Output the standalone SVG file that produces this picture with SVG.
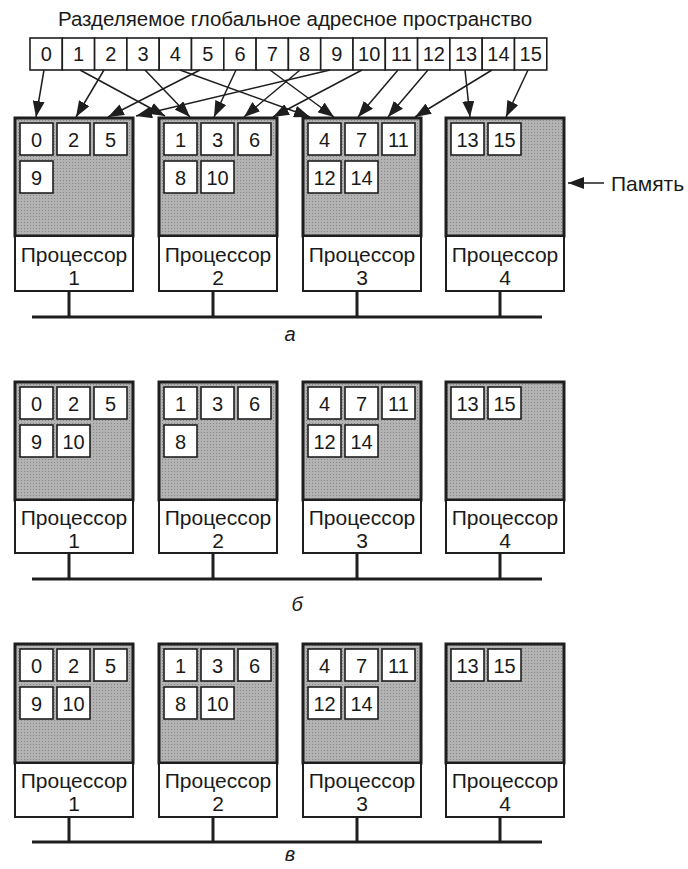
<svg xmlns="http://www.w3.org/2000/svg" width="688" height="869" viewBox="0 0 688 869">
<style>
.t{font-family:"Liberation Sans",Arial,sans-serif;fill:#1a1a1a}
.num{font-size:20px;text-anchor:middle}
.lbl{font-size:21px;text-anchor:middle}
.cap{font-size:20px;font-style:italic;text-anchor:middle}
.mem{fill:url(#dots);stroke:#1e1e1e;stroke-width:3}
.cpu{fill:#fff;stroke:#1e1e1e;stroke-width:2}
.cell{fill:#fff;stroke:#1e1e1e;stroke-width:1.6}
.bus{stroke:#1e1e1e;stroke-width:3;fill:none}
.conn{stroke:#1e1e1e;stroke-width:1.5;fill:none;marker-end:url(#ah)}
</style>
<defs>
<pattern id="dots" width="3" height="3" patternUnits="userSpaceOnUse">
<rect width="3" height="3" fill="#b3b3b3"/><rect width="1" height="1" fill="#858585"/>
</pattern>
<marker id="ah" markerUnits="userSpaceOnUse" markerWidth="16" markerHeight="12" refX="16" refY="6" orient="auto">
<path d="M0,0 L16,6 L0,12 z" fill="#1e1e1e"/>
</marker>
</defs>
<rect width="688" height="869" fill="#fff"/>

<text class="t" x="295" y="26" font-size="20.5" text-anchor="middle">Разделяемое глобальное адресное пространство</text>

<g id="address-space">
<rect class="cell" x="30" y="38" width="32.3" height="32"/><text class="t num" x="46.2" y="61">0</text>
<rect class="cell" x="62.3" y="38" width="32.3" height="32"/><text class="t num" x="78.5" y="61">1</text>
<rect class="cell" x="94.6" y="38" width="32.3" height="32"/><text class="t num" x="110.8" y="61">2</text>
<rect class="cell" x="126.9" y="38" width="32.3" height="32"/><text class="t num" x="143.1" y="61">3</text>
<rect class="cell" x="159.2" y="38" width="32.3" height="32"/><text class="t num" x="175.4" y="61">4</text>
<rect class="cell" x="191.5" y="38" width="32.3" height="32"/><text class="t num" x="207.7" y="61">5</text>
<rect class="cell" x="223.8" y="38" width="32.3" height="32"/><text class="t num" x="240" y="61">6</text>
<rect class="cell" x="256.1" y="38" width="32.3" height="32"/><text class="t num" x="272.3" y="61">7</text>
<rect class="cell" x="288.4" y="38" width="32.3" height="32"/><text class="t num" x="304.6" y="61">8</text>
<rect class="cell" x="320.7" y="38" width="32.3" height="32"/><text class="t num" x="336.9" y="61">9</text>
<rect class="cell" x="353" y="38" width="32.3" height="32"/><text class="t num" x="369.2" y="61">10</text>
<rect class="cell" x="385.3" y="38" width="32.3" height="32"/><text class="t num" x="401.5" y="61">11</text>
<rect class="cell" x="417.6" y="38" width="32.3" height="32"/><text class="t num" x="433.8" y="61">12</text>
<rect class="cell" x="449.9" y="38" width="32.3" height="32"/><text class="t num" x="466.1" y="61">13</text>
<rect class="cell" x="482.2" y="38" width="32.3" height="32"/><text class="t num" x="498.4" y="61">14</text>
<rect class="cell" x="514.5" y="38" width="32.3" height="32"/><text class="t num" x="530.7" y="61">15</text>
</g>

<!-- Section a -->
<g id="a-p1">
<rect class="mem" x="15" y="118" width="118" height="118"/>
<rect class="cell" x="20" y="123" width="33" height="32"/><text class="t num" x="36.5" y="146.5">0</text>
<rect class="cell" x="57" y="123" width="33" height="32"/><text class="t num" x="73.5" y="146.5">2</text>
<rect class="cell" x="94" y="123" width="33" height="32"/><text class="t num" x="110.5" y="146.5">5</text>
<rect class="cell" x="20" y="161" width="33" height="32"/><text class="t num" x="36.5" y="184.5">9</text>
<rect class="cpu" x="15" y="236" width="118" height="55"/>
<text class="t lbl" x="74" y="262">Процессор</text><text class="t lbl" x="74" y="285">1</text>
</g>
<g id="a-p2">
<rect class="mem" x="159" y="118" width="118" height="118"/>
<rect class="cell" x="164" y="123" width="33" height="32"/><text class="t num" x="180.5" y="146.5">1</text>
<rect class="cell" x="201" y="123" width="33" height="32"/><text class="t num" x="217.5" y="146.5">3</text>
<rect class="cell" x="238" y="123" width="33" height="32"/><text class="t num" x="254.5" y="146.5">6</text>
<rect class="cell" x="164" y="161" width="33" height="32"/><text class="t num" x="180.5" y="184.5">8</text>
<rect class="cell" x="201" y="161" width="33" height="32"/><text class="t num" x="217.5" y="184.5">10</text>
<rect class="cpu" x="159" y="236" width="118" height="55"/>
<text class="t lbl" x="218" y="262">Процессор</text><text class="t lbl" x="218" y="285">2</text>
</g>
<g id="a-p3">
<rect class="mem" x="303" y="118" width="118" height="118"/>
<rect class="cell" x="308" y="123" width="33" height="32"/><text class="t num" x="324.5" y="146.5">4</text>
<rect class="cell" x="345" y="123" width="33" height="32"/><text class="t num" x="361.5" y="146.5">7</text>
<rect class="cell" x="382" y="123" width="33" height="32"/><text class="t num" x="398.5" y="146.5">11</text>
<rect class="cell" x="308" y="161" width="33" height="32"/><text class="t num" x="324.5" y="184.5">12</text>
<rect class="cell" x="345" y="161" width="33" height="32"/><text class="t num" x="361.5" y="184.5">14</text>
<rect class="cpu" x="303" y="236" width="118" height="55"/>
<text class="t lbl" x="362" y="262">Процессор</text><text class="t lbl" x="362" y="285">3</text>
</g>
<g id="a-p4">
<rect class="mem" x="446" y="118" width="118" height="118"/>
<rect class="cell" x="451" y="123" width="33" height="32"/><text class="t num" x="467.5" y="146.5">13</text>
<rect class="cell" x="488" y="123" width="33" height="32"/><text class="t num" x="504.5" y="146.5">15</text>
<rect class="cpu" x="446" y="236" width="118" height="55"/>
<text class="t lbl" x="505" y="262">Процессор</text><text class="t lbl" x="505" y="285">4</text>
</g>
<g id="a-bus">
<path class="bus" d="M32,317 H542 M69,291 V317 M213,291 V317 M357,291 V317 M500,291 V317"/>
</g>
<text class="t cap" x="290" y="341">а</text>

<g id="memory-label">
<line x1="604" y1="183" x2="568" y2="183" stroke="#1e1e1e" stroke-width="1.5" marker-end="url(#ah)"/>
<text class="t" x="611" y="191" font-size="21">Память</text>
</g>

<!-- Section b -->
<g id="b-p1">
<rect class="mem" x="15" y="382" width="118" height="118"/>
<rect class="cell" x="20" y="387" width="33" height="32"/><text class="t num" x="36.5" y="410.5">0</text>
<rect class="cell" x="57" y="387" width="33" height="32"/><text class="t num" x="73.5" y="410.5">2</text>
<rect class="cell" x="94" y="387" width="33" height="32"/><text class="t num" x="110.5" y="410.5">5</text>
<rect class="cell" x="20" y="425" width="33" height="32"/><text class="t num" x="36.5" y="448.5">9</text>
<rect class="cell" x="57" y="425" width="33" height="32"/><text class="t num" x="73.5" y="448.5">10</text>
<rect class="cpu" x="15" y="500" width="118" height="53"/>
<text class="t lbl" x="74" y="525">Процессор</text><text class="t lbl" x="74" y="548">1</text>
</g>
<g id="b-p2">
<rect class="mem" x="159" y="382" width="118" height="118"/>
<rect class="cell" x="164" y="387" width="33" height="32"/><text class="t num" x="180.5" y="410.5">1</text>
<rect class="cell" x="201" y="387" width="33" height="32"/><text class="t num" x="217.5" y="410.5">3</text>
<rect class="cell" x="238" y="387" width="33" height="32"/><text class="t num" x="254.5" y="410.5">6</text>
<rect class="cell" x="164" y="425" width="33" height="32"/><text class="t num" x="180.5" y="448.5">8</text>
<rect class="cpu" x="159" y="500" width="118" height="53"/>
<text class="t lbl" x="218" y="525">Процессор</text><text class="t lbl" x="218" y="548">2</text>
</g>
<g id="b-p3">
<rect class="mem" x="303" y="382" width="118" height="118"/>
<rect class="cell" x="308" y="387" width="33" height="32"/><text class="t num" x="324.5" y="410.5">4</text>
<rect class="cell" x="345" y="387" width="33" height="32"/><text class="t num" x="361.5" y="410.5">7</text>
<rect class="cell" x="382" y="387" width="33" height="32"/><text class="t num" x="398.5" y="410.5">11</text>
<rect class="cell" x="308" y="425" width="33" height="32"/><text class="t num" x="324.5" y="448.5">12</text>
<rect class="cell" x="345" y="425" width="33" height="32"/><text class="t num" x="361.5" y="448.5">14</text>
<rect class="cpu" x="303" y="500" width="118" height="53"/>
<text class="t lbl" x="362" y="525">Процессор</text><text class="t lbl" x="362" y="548">3</text>
</g>
<g id="b-p4">
<rect class="mem" x="446" y="382" width="118" height="118"/>
<rect class="cell" x="451" y="387" width="33" height="32"/><text class="t num" x="467.5" y="410.5">13</text>
<rect class="cell" x="488" y="387" width="33" height="32"/><text class="t num" x="504.5" y="410.5">15</text>
<rect class="cpu" x="446" y="500" width="118" height="53"/>
<text class="t lbl" x="505" y="525">Процессор</text><text class="t lbl" x="505" y="548">4</text>
</g>
<g id="b-bus">
<path class="bus" d="M32,579 H542 M69,553 V579 M213,553 V579 M357,553 V579 M500,553 V579"/>
</g>
<text class="t cap" x="297" y="611">б</text>

<!-- Section c -->
<g id="c-p1">
<rect class="mem" x="15" y="644" width="118" height="119"/>
<rect class="cell" x="20" y="649" width="33" height="32"/><text class="t num" x="36.5" y="672.5">0</text>
<rect class="cell" x="57" y="649" width="33" height="32"/><text class="t num" x="73.5" y="672.5">2</text>
<rect class="cell" x="94" y="649" width="33" height="32"/><text class="t num" x="110.5" y="672.5">5</text>
<rect class="cell" x="20" y="687" width="33" height="32"/><text class="t num" x="36.5" y="710.5">9</text>
<rect class="cell" x="57" y="687" width="33" height="32"/><text class="t num" x="73.5" y="710.5">10</text>
<rect class="cpu" x="15" y="763" width="118" height="54"/>
<text class="t lbl" x="74" y="788">Процессор</text><text class="t lbl" x="74" y="811">1</text>
</g>
<g id="c-p2">
<rect class="mem" x="159" y="644" width="118" height="119"/>
<rect class="cell" x="164" y="649" width="33" height="32"/><text class="t num" x="180.5" y="672.5">1</text>
<rect class="cell" x="201" y="649" width="33" height="32"/><text class="t num" x="217.5" y="672.5">3</text>
<rect class="cell" x="238" y="649" width="33" height="32"/><text class="t num" x="254.5" y="672.5">6</text>
<rect class="cell" x="164" y="687" width="33" height="32"/><text class="t num" x="180.5" y="710.5">8</text>
<rect class="cell" x="201" y="687" width="33" height="32"/><text class="t num" x="217.5" y="710.5">10</text>
<rect class="cpu" x="159" y="763" width="118" height="54"/>
<text class="t lbl" x="218" y="788">Процессор</text><text class="t lbl" x="218" y="811">2</text>
</g>
<g id="c-p3">
<rect class="mem" x="303" y="644" width="118" height="119"/>
<rect class="cell" x="308" y="649" width="33" height="32"/><text class="t num" x="324.5" y="672.5">4</text>
<rect class="cell" x="345" y="649" width="33" height="32"/><text class="t num" x="361.5" y="672.5">7</text>
<rect class="cell" x="382" y="649" width="33" height="32"/><text class="t num" x="398.5" y="672.5">11</text>
<rect class="cell" x="308" y="687" width="33" height="32"/><text class="t num" x="324.5" y="710.5">12</text>
<rect class="cell" x="345" y="687" width="33" height="32"/><text class="t num" x="361.5" y="710.5">14</text>
<rect class="cpu" x="303" y="763" width="118" height="54"/>
<text class="t lbl" x="362" y="788">Процессор</text><text class="t lbl" x="362" y="811">3</text>
</g>
<g id="c-p4">
<rect class="mem" x="446" y="644" width="118" height="119"/>
<rect class="cell" x="451" y="649" width="33" height="32"/><text class="t num" x="467.5" y="672.5">13</text>
<rect class="cell" x="488" y="649" width="33" height="32"/><text class="t num" x="504.5" y="672.5">15</text>
<rect class="cpu" x="446" y="763" width="118" height="54"/>
<text class="t lbl" x="505" y="788">Процессор</text><text class="t lbl" x="505" y="811">4</text>
</g>
<g id="c-bus">
<path class="bus" d="M32,842 H542 M69,817 V842 M213,817 V842 M357,817 V842 M500,817 V842"/>
</g>
<text class="t cap" x="290" y="861">в</text>

<g id="connectors">
<line class="conn" x1="44" y1="70" x2="36" y2="117"/>
<line class="conn" x1="104" y1="70" x2="76" y2="117"/>
<line class="conn" x1="200" y1="70" x2="108" y2="117"/>
<line class="conn" x1="330" y1="70" x2="136" y2="116"/>
<line class="conn" x1="80" y1="70" x2="165" y2="116"/>
<line class="conn" x1="145" y1="70" x2="190" y2="117"/>
<line class="conn" x1="236" y1="70" x2="214" y2="117"/>
<line class="conn" x1="300" y1="70" x2="244" y2="117"/>
<line class="conn" x1="362" y1="70" x2="273" y2="117"/>
<line class="conn" x1="180" y1="70" x2="310" y2="117"/>
<line class="conn" x1="270" y1="70" x2="334" y2="117"/>
<line class="conn" x1="398" y1="70" x2="358" y2="117"/>
<line class="conn" x1="428" y1="70" x2="388" y2="117"/>
<line class="conn" x1="492" y1="70" x2="415" y2="117"/>
<line class="conn" x1="465" y1="70" x2="470" y2="117"/>
<line class="conn" x1="528" y1="70" x2="506" y2="117"/>
</g>
</svg>
